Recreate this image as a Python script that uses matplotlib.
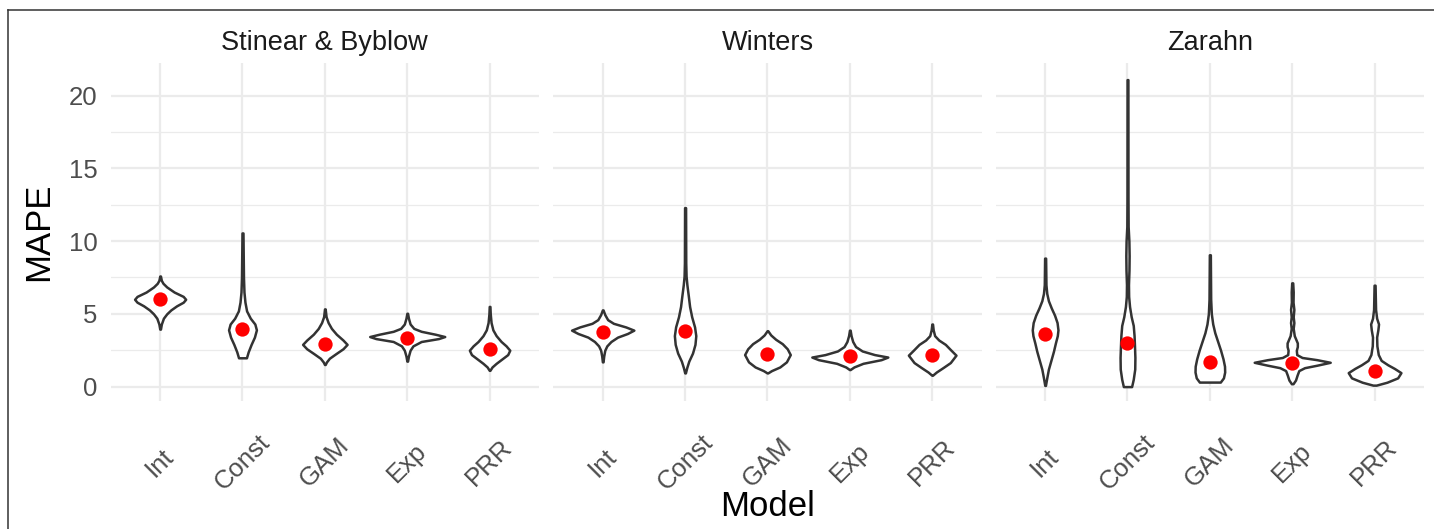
import matplotlib
matplotlib.use('Agg')
import matplotlib.pyplot as plt
from matplotlib.lines import Line2D

plt.rcParams['font.family'] = ['Liberation Sans', 'DejaVu Sans']

models = ['Int', 'Const', 'GAM', 'Exp', 'PRR']
facets = ['Stinear & Byblow', 'Winters', 'Zarahn']
y_ticks = [0, 5, 10, 15, 20]
y_minor = [2.5, 7.5, 12.5, 17.5]

# mean MAPE (red points)
sb_means = [6.0, 3.95, 2.96, 3.37, 2.56]
wi_means = [3.77, 3.84, 2.26, 2.10, 2.16]
za_means = [3.60, 3.03, 1.68, 1.65, 1.05]

# violin outlines: (MAPE value, half-width of violin in category units)
sb_int = [(3.95, 0.004), (4.3, 0.015), (4.7, 0.04), (5.0, 0.08), (5.27, 0.13), (5.55, 0.2), (5.8, 0.28),
          (6.0, 0.31), (6.2, 0.28), (6.5, 0.17), (6.85, 0.08), (7.1, 0.035), (7.3, 0.015), (7.6, 0.004)]
sb_const = [(1.98, 0.048), (2.4, 0.07), (2.9, 0.105), (3.4, 0.145), (3.9, 0.169), (4.3, 0.15),
            (4.7, 0.095), (5.2, 0.05), (5.8, 0.03), (6.5, 0.018), (7.5, 0.012), (9.0, 0.009), (10.56, 0.006)]
sb_gam = [(1.52, 0.004), (1.7, 0.02), (1.95, 0.055), (2.25, 0.13), (2.6, 0.22), (2.9, 0.27),
          (3.2, 0.22), (3.6, 0.14), (4.0, 0.08), (4.4, 0.04), (4.8, 0.015), (5.34, 0.004)]
sb_exp = [(1.75, 0.004), (2.1, 0.015), (2.5, 0.035), (2.8, 0.07), (3.1, 0.17), (3.3, 0.38),
          (3.44, 0.455), (3.6, 0.34), (3.8, 0.17), (4.0, 0.08), (4.3, 0.035), (4.7, 0.015), (5.04, 0.004)]
sb_prr = [(1.12, 0.004), (1.35, 0.03), (1.6, 0.08), (1.9, 0.15), (2.2, 0.22), (2.5, 0.245),
          (2.8, 0.2), (3.1, 0.14), (3.5, 0.08), (3.9, 0.04), (4.4, 0.018), (5.0, 0.008), (5.51, 0.004)]

wi_int = [(1.70, 0.004), (2.1, 0.012), (2.5, 0.025), (2.8, 0.05), (3.1, 0.1), (3.4, 0.18),
          (3.65, 0.3), (3.88, 0.378), (4.1, 0.28), (4.35, 0.13), (4.6, 0.06), (4.95, 0.025), (5.27, 0.004)]
wi_const = [(0.94, 0.004), (1.3, 0.02), (1.75, 0.045), (2.3, 0.09), (2.9, 0.12), (3.5, 0.13),
            (4.1, 0.115), (4.8, 0.08), (5.5, 0.055), (6.2, 0.04), (7.0, 0.022), (7.6, 0.012),
            (8.5, 0.008), (12.3, 0.006)]
wi_gam = [(0.94, 0.004), (1.1, 0.05), (1.35, 0.15), (1.7, 0.23), (2.2, 0.277), (2.6, 0.24),
          (2.95, 0.18), (3.25, 0.1), (3.55, 0.04), (3.84, 0.004)]
wi_exp = [(1.17, 0.004), (1.35, 0.05), (1.6, 0.16), (1.85, 0.38), (2.03, 0.461), (2.2, 0.3),
          (2.45, 0.15), (2.75, 0.07), (3.1, 0.035), (3.5, 0.015), (3.88, 0.004)]
wi_prr = [(0.78, 0.004), (1.0, 0.05), (1.3, 0.13), (1.65, 0.22), (2.16, 0.289), (2.55, 0.22),
          (2.9, 0.16), (3.2, 0.08), (3.5, 0.03), (3.9, 0.012), (4.3, 0.004)]

za_int = [(0.08, 0.004), (0.6, 0.02), (1.2, 0.04), (1.8, 0.07), (2.4, 0.1), (3.0, 0.125),
          (3.5, 0.148), (3.9, 0.156), (4.4, 0.145), (4.9, 0.115), (5.4, 0.075), (5.9, 0.04),
          (6.4, 0.02), (7.0, 0.01), (8.83, 0.006)]
za_const = [(0.0, 0.05), (0.5, 0.07), (1.2, 0.088), (2.0, 0.09), (2.8, 0.085), (3.5, 0.08),
            (4.2, 0.07), (4.8, 0.045), (5.5, 0.025), (6.2, 0.014), (7.0, 0.012), (8.0, 0.018),
            (9.0, 0.02), (10.0, 0.017), (11.0, 0.008), (13.0, 0.006), (21.1, 0.005)]
za_gam = [(0.31, 0.127), (0.6, 0.165), (1.0, 0.18), (1.4, 0.178), (1.9, 0.16), (2.5, 0.13),
          (3.1, 0.095), (3.7, 0.06), (4.3, 0.035), (5.0, 0.018), (6.0, 0.01), (9.06, 0.006)]
za_exp = [(0.2, 0.01), (0.45, 0.04), (0.8, 0.06), (1.1, 0.08), (1.3, 0.15), (1.47, 0.3),
          (1.67, 0.461), (1.85, 0.3), (2.0, 0.12), (2.2, 0.055), (2.5, 0.05), (2.75, 0.062),
          (3.0, 0.062), (3.3, 0.04), (3.5, 0.025), (4.0, 0.012), (4.4, 0.02), (4.8, 0.012),
          (5.3, 0.02), (5.8, 0.01), (6.5, 0.012), (7.13, 0.006)]
za_prr = [(0.1, 0.02), (0.3, 0.15), (0.6, 0.28), (0.96, 0.32), (1.25, 0.24), (1.5, 0.16),
          (1.8, 0.08), (2.2, 0.045), (2.8, 0.028), (3.4, 0.025), (3.9, 0.04), (4.3, 0.048),
          (4.7, 0.025), (5.3, 0.012), (6.97, 0.006)]

profiles = [[sb_int, sb_const, sb_gam, sb_exp, sb_prr],
            [wi_int, wi_const, wi_gam, wi_exp, wi_prr],
            [za_int, za_const, za_gam, za_exp, za_prr]]
means = [sb_means, wi_means, za_means]

W, H = 1434, 529
fig = plt.figure(figsize=(W / 100, H / 100), dpi=100)
fig.patch.set_facecolor('white')

lefts = [110.7, 553.3, 995.7]
pw = 428.3
top_px, bot_px = 63.3, 401.0
grid_c = '#EBEBEB'
text_c = '#4D4D4D'

for k, facet in enumerate(facets):
    ax = fig.add_axes([lefts[k] / W, (H - bot_px) / H, pw / W, (bot_px - top_px) / H])
    ax.set_facecolor('white')
    ax.set_xlim(-0.6, 4.6)
    ax.set_ylim(-0.99, 22.22)
    for s in ax.spines.values():
        s.set_visible(False)
    ax.set_yticks(y_ticks)
    ax.set_yticks(y_minor, minor=True)
    ax.set_xticks(range(len(models)))
    ax.grid(which='major', color=grid_c, lw=1.6)
    ax.grid(which='minor', axis='y', color=grid_c, lw=0.9)
    ax.set_axisbelow(True)
    ax.tick_params(which='both', length=0)
    ax.set_xticklabels(models, rotation=45, ha='center', va='center',
                       rotation_mode='anchor', fontsize=18.5, color=text_c)
    ax.tick_params(axis='x', pad=44.3)
    if k == 0:
        ax.set_yticklabels([str(v) for v in y_ticks], fontsize=18.5, color=text_c)
        ax.tick_params(axis='y', pad=9.6)
    else:
        ax.set_yticklabels([])
    for i, prof in enumerate(profiles[k]):
        ys = [p[0] for p in prof]
        ws = [p[1] for p in prof]
        ax.fill_betweenx(ys, [i - w for w in ws], [i + w for w in ws],
                         facecolor='white', edgecolor='#333333', lw=1.8, zorder=2,
                         joinstyle='round')
    ax.plot(range(len(models)), means[k], 'o', color='#FF0000', ms=10.3, mec='none', zorder=3)
    ax.text(0.5, 1.0394, facet, transform=ax.transAxes, ha='center', va='baseline',
            fontsize=19.5, color='#1A1A1A')

# outer border (top and left visible)
fig.add_artist(Line2D([8 / W, 1], [1 - 10 / H, 1 - 10 / H], transform=fig.transFigure,
                      color='#333333', lw=1.1))
fig.add_artist(Line2D([8 / W, 8 / W], [0, 1 - 10 / H], transform=fig.transFigure,
                      color='#333333', lw=1.1))

fig.text(38.5 / W, 1 - 232 / H, 'MAPE', rotation=90, ha='center', va='center',
         fontsize=25, color='black')
fig.text(767.5 / W, 13 / H, 'Model', ha='center', va='baseline', fontsize=25, color='black')

fig.savefig('out.png', dpi=100, facecolor='white')
